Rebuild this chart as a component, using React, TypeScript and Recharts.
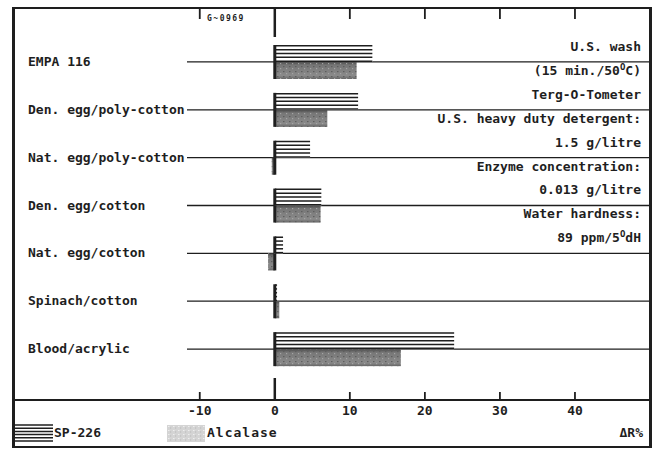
import React from "react";
import { BarChart, Bar, XAxis, YAxis, CartesianGrid } from "recharts";

const categories = [
  "EMPA 116",
  "Den. egg/poly-cotton",
  "Nat. egg/poly-cotton",
  "Den. egg/cotton",
  "Nat. egg/cotton",
  "Spinach/cotton",
  "Blood/acrylic",
];
const sp226 = [13.0, 11.1, 4.7, 6.2, 1.1, 0.3, 23.9];
const alcalase = [10.9, 7.0, -0.4, 6.1, -0.9, 0.6, 16.8];
const xTicks = [-10, 0, 10, 20, 30, 40];
const xDomain = [-11.7, 50];
const notes = [
  "U.S. wash",
  "(15 min./50^OC)",
  "Terg-O-Tometer",
  "U.S. heavy duty detergent:",
  "1.5 g/litre",
  "Enzyme concentration:",
  "0.013 g/litre",
  "Water hardness:",
  "89 ppm/5^OdH",
];

const data = categories.map((name, i) => ({ name, sp226: sp226[i], alcalase: alcalase[i] }));

const INK = "#1e1e1e";
const FONT = "'DejaVu Sans Mono', 'Liberation Mono', monospace";
const PLOT_TOP = 8;

// split bar geometry so negative values still get their edge at zero
const geom = (x: number, width: number, value: number) => {
  const left = Math.min(x, x + width);
  const w = Math.abs(width);
  const zeroX = value < 0 === width < 0 ? x : x + width;
  return { left, w, zeroX };
};

const StripedBar = (props: any) => {
  const { x, y, width, height, payload } = props;
  const { left, w, zeroX } = geom(x, width, payload.sp226);
  const lines = [0, 1, 2, 3, 4].map((i) => y + 0.8 + (i * (height - 1.6)) / 4);
  return (
    <g>
      <rect x={left} y={y} width={w} height={height} fill="#fff" />
      {lines.map((ly, i) => (
        <line key={i} x1={left} x2={left + w} y1={ly} y2={ly} stroke={INK} strokeWidth={1.5} />
      ))}
      <line x1={zeroX} x2={zeroX} y1={y} y2={y + height} stroke={INK} strokeWidth={3} />
    </g>
  );
};

const GreyBar = (props: any) => {
  const { x, y, width, height, payload } = props;
  const { left, w, zeroX } = geom(x, width, payload.alcalase);
  return (
    <g>
      <rect x={left} y={y} width={w} height={height} fill="url(#alcGrad)" />
      <rect x={left} y={y} width={w} height={height} fill="url(#speckle)" />
      <line x1={zeroX} x2={zeroX} y1={y} y2={y + height} stroke={INK} strokeWidth={3} />
    </g>
  );
};

const CatTick = (props: any) => {
  const { y, payload } = props;
  return (
    <text x={28} y={y} dy={4} textAnchor="start" fontFamily={FONT} fontSize={13} fontWeight="bold" fill={INK}>
      {payload.value}
    </text>
  );
};

// ticks point inward from the bottom axis and down from the top border
const AxisTick = (props: any) => {
  const { x, y, payload } = props;
  const zero = payload.value === 0;
  const sw = zero ? 2.5 : 1.8;
  return (
    <g>
      <line x1={x} x2={x} y1={y} y2={y - (zero ? 22 : 8)} stroke={INK} strokeWidth={sw} />
      <rect x={x - sw / 2} y={PLOT_TOP} width={sw} height={zero ? 29 : 11} fill={INK} />
      <text x={x} y={y + 15} textAnchor="middle" fontFamily={FONT} fontSize={13} fontWeight="bold" fill={INK}>
        {payload.value}
      </text>
    </g>
  );
};

const renderNote = (s: string) => {
  const parts = s.split("^O");
  return parts.map((p, i) => (
    <React.Fragment key={i}>
      {i > 0 && <sup style={{ fontSize: 9, lineHeight: 0 }}>O</sup>}
      {p}
    </React.Fragment>
  ));
};

const App: React.FC = () => {
  return (
    <div style={{ position: "absolute", left: 0, top: 0, width: 661, height: 452, background: "#fff", fontFamily: FONT, fontWeight: "bold", color: INK }}>
      <svg width={0} height={0} style={{ position: "absolute" }}>
        <defs>
          <linearGradient id="alcGrad" x1="0" y1="0" x2="0" y2="1">
            <stop offset="0%" stopColor="#4a4a4a" />
            <stop offset="18%" stopColor="#767676" />
            <stop offset="80%" stopColor="#8a8a8a" />
            <stop offset="100%" stopColor="#666" />
          </linearGradient>
          <pattern id="speckle" width={6} height={5} patternUnits="userSpaceOnUse">
            <rect x={1} y={1} width={1.5} height={1.2} fill="#5e5e5e" />
            <rect x={4} y={3} width={1.2} height={1.2} fill="#a4a4a4" />
          </pattern>
          <pattern id="legSpeckle" width={5} height={4} patternUnits="userSpaceOnUse">
            <rect width={5} height={4} fill="#d4d4d4" />
            <rect x={1} y={1} width={1.5} height={1} fill="#eee" />
            <rect x={3} y={2.5} width={1.2} height={1} fill="#b8b8b8" />
          </pattern>
        </defs>
      </svg>

      <BarChart
        width={661}
        height={452}
        data={data}
        layout="vertical"
        margin={{ top: PLOT_TOP, right: 11, bottom: 0, left: 0 }}
        barSize={17}
        barGap={0}
      >
        <CartesianGrid horizontal vertical={false} stroke={INK} strokeWidth={1.3} />
        <XAxis
          type="number"
          domain={xDomain}
          ticks={xTicks}
          interval={0}
          allowDataOverflow
          height={52}
          tickSize={0}
          tickMargin={0}
          axisLine={false}
          tickLine={false}
          tick={<AxisTick />}
        />
        <YAxis
          type="category"
          dataKey="name"
          width={187}
          interval={0}
          padding={{ top: 30, bottom: 27 }}
          axisLine={false}
          tickLine={false}
          tick={<CatTick />}
        />
        <Bar dataKey="sp226" name="SP-226" shape={<StripedBar />} isAnimationActive={false} />
        <Bar dataKey="alcalase" name="Alcalase" shape={<GreyBar />} isAnimationActive={false} />
      </BarChart>

      {/* frame */}
      <div style={{ position: "absolute", left: 12, top: 7, width: 634, height: 437, pointerEvents: "none", borderTop: `2px solid ${INK}`, borderBottom: `2px solid ${INK}`, borderLeft: `3px solid ${INK}`, borderRight: `3px solid ${INK}` }} />
      <div style={{ position: "absolute", left: 12, top: 399, width: 640, height: 2, background: INK }} />

      <span style={{ position: "absolute", left: 207, top: 14, fontSize: 8, lineHeight: "10px", letterSpacing: 1.5 }}>G~0969</span>

      {notes.map((n, i) => (
        <div
          key={i}
          style={{ position: "absolute", right: 20, top: 39 + i * 23.9, height: 16, lineHeight: "16px", fontSize: 13, whiteSpace: "nowrap", textAlign: "right" }}
        >
          {renderNote(n)}
        </div>
      ))}

      {/* legend */}
      <svg width={38} height={18} style={{ position: "absolute", left: 15, top: 424 }}>
        {[0, 1, 2, 3, 4, 5].map((i) => (
          <line key={i} x1={0} x2={38} y1={1 + i * 3.2} y2={1 + i * 3.2} stroke={INK} strokeWidth={1.5} />
        ))}
      </svg>
      <div style={{ position: "absolute", left: 54, top: 425, fontSize: 13, lineHeight: "16px" }}>SP-226</div>
      <svg width={38} height={17} style={{ position: "absolute", left: 167, top: 425 }}>
        <rect width={38} height={17} fill="url(#legSpeckle)" />
      </svg>
      <div style={{ position: "absolute", left: 207, top: 425, fontSize: 13, lineHeight: "16px", letterSpacing: 1 }}>Alcalase</div>
      <div style={{ position: "absolute", right: 18, top: 425, fontSize: 13, lineHeight: "16px" }}>ΔR%</div>
    </div>
  );
};

export default App;
